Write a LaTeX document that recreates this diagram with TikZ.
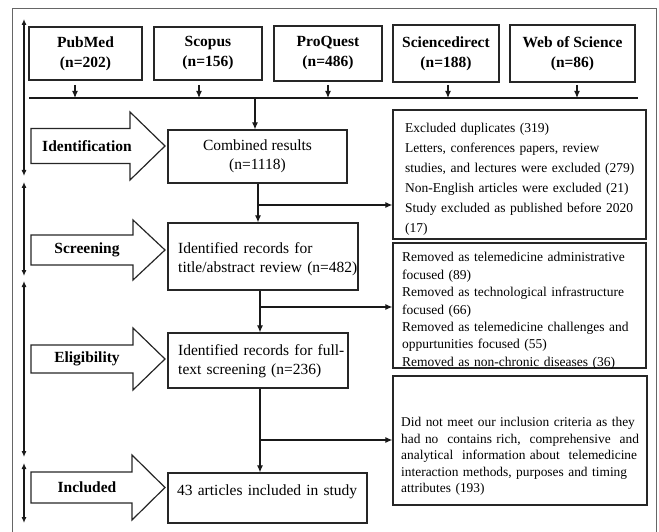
\documentclass[tikz,border=0pt]{standalone}
\usepackage{fontspec}
\setmainfont{Liberation Serif}
\usetikzlibrary{arrows.meta,calc}
\newcommand\blockarr[6]{%
  % #1 name, #2 cy, #3 tail half, #4 head half, #5 head base x, #6 label
  \draw[blockline] (31,{#2-#3}) -- (#5,{#2-#3}) -- (#5,{#2-#4}) -- (165,#2)
    -- (#5,{#2+#4}) -- (#5,{#2+#3}) -- (31,{#2+#3}) -- cycle;
  \node[phase] (#1) at (87,#2) {#6};
}
\begin{document}
\begin{tikzpicture}[x=1pt,y=-1pt,
  box/.style={draw=black!85, line width=1.2pt, inner sep=0pt},
  srcbox/.style={box, align=center, font=\fontsize{15.5}{20}\selectfont\bfseries},
  midbox/.style={box, font=\fontsize{15.5}{19}\selectfont},
  midtext/.style={inner sep=0pt, anchor=base west, align=left, text width=186pt, font=\fontsize{15.5}{19}\selectfont},
  blockline/.style={draw=black!85, line width=1.2pt, line join=miter},
  phase/.style={font=\fontsize{15.5}{19}\selectfont\bfseries, inner sep=0pt},
  extext/.style={inner sep=0pt, anchor=base west, align=left, text width=242pt},
  conn/.style={draw=black!90, line width=1.1pt},
  arr/.style={conn, -{Latex[length=7pt,width=6pt]}},
  tl/.style={conn, {Latex[length=6pt,width=5pt]}-{Latex[length=6pt,width=5pt]}}
]
\useasboundingbox (0,0) rectangle (659,532);
% outer frame
\draw[draw=black!60, line width=1pt] (12,9) rectangle (656,534);

% source boxes
\node[srcbox, minimum width=113pt, minimum height=53pt] (pubmed) at (85.5,53.5) {PubMed\\(n=202)};
\node[srcbox, minimum width=108pt, minimum height=53pt] (scopus) at (208,53.5) {Scopus\\(n=156)};
\node[srcbox, minimum width=108pt, minimum height=55pt] (proquest) at (328,53.5) {ProQuest\\(n=486)};
\node[srcbox, minimum width=106pt, minimum height=57pt] (scidir) at (446,53.5) {Sciencedirect\\(n=188)};
\node[srcbox, minimum width=125pt, minimum height=57pt] (wos) at (572.5,53.5) {Web of Science\\(n=86)};

% merge line
\coordinate (hl) at (29,98);
\coordinate (hr) at (638,98);
\draw[conn] (hl) -- (hr);
\coordinate (pa) at (75,85);
\coordinate (sa) at (199,85);
\coordinate (qa) at (328,85);
\coordinate (da) at (448,85);
\coordinate (wa) at (577,85);
\draw[arr] (pa) -- (pa |- hl);
\draw[arr] (sa) -- (sa |- hl);
\draw[arr] (qa) -- (qa |- hl);
\draw[arr] (da) -- (da |- hl);
\draw[arr] (wa) -- (wa |- hl);

% middle boxes
\node[midbox, align=center, minimum width=179pt, minimum height=53pt] (combined) at (257.5,156.5) {Combined results\\(n=1118)};
\node[box, minimum width=190pt, minimum height=67pt] (screen) at (263,256.5) {};
\node[midtext] (screent) at (178,253) {Identified records for\\title/abstract review (n=482)};
\node[box, minimum width=180pt, minimum height=55pt] (elig) at (258,360.5) {};
\node[midtext] (eligt) at (178,355) {Identified records for full-\\text screening (n=236)};
\node[box, minimum width=199pt, minimum height=50pt] (incl) at (267.5,498) {};
\node[midtext] (inclt) at (177,495) {43 articles included in study};

% exclusion boxes
\node[box, minimum width=253pt, minimum height=129pt] (ex1) at (519.5,174.5) {};
\node[box, minimum width=253pt, minimum height=125pt] (ex2) at (519.5,305.5) {};
\node[box, minimum width=254pt, minimum height=129pt] (ex3) at (520,440.5) {};

\node[extext, font=\fontsize{13.5}{20}\selectfont] (ex1t) at (405,132.5)
 {Excluded duplicates (319)\\Letters, conferences papers, review\\studies, and lectures were excluded (279)\\Non-English articles were excluded (21)\\Study excluded as published before 2020\\(17)};
\node[extext, font=\fontsize{13.5}{17.5}\selectfont] (ex2t) at (402,261.5)
 {Removed as telemedicine administrative\\focused (89)\\Removed as technological infrastructure\\focused (66)\\Removed as telemedicine challenges and\\oppurtunities focused (55)\\Removed as non-chronic diseases (36)};
\node[extext, text width=226pt, font=\fontsize{13.4}{16.5}\selectfont] (ex3t) at (401,426.5)
 {\makebox[226pt][s]{Did not meet our inclusion criteria as they}\\
  \makebox[226pt][s]{had no\ \ contains rich,\ \ comprehensive\ \ and}\\
  \makebox[226pt][s]{analytical\ \ information about\ \ telemedicine}\\
  \makebox[226pt][s]{interaction methods, purposes and timing}\\
  attributes (193)};

% flow connectors
\coordinate (m) at (255,98);
\draw[arr] (m) -- (m |- combined.north);
\coordinate (c1) at ($(combined.south)+(0.5,0)$);
\draw[arr] (c1) -- (c1 |- screen.north);
\coordinate (b1) at (258,205);
\draw[arr] (b1) -- (b1 -| ex1.west);
\coordinate (c2) at ($(screen.south)+(-3,0)$);
\draw[arr] (c2) -- (c2 |- elig.north);
\coordinate (b2) at (260,307);
\draw[arr] (b2) -- (b2 -| ex2.west);
\coordinate (c3) at ($(elig.south)+(2,0)$);
\draw[arr] (c3) -- (c3 |- incl.north);
\coordinate (b3) at (260,440);
\draw[arr] (b3) -- (b3 -| ex3.west);

% phase block arrows
\blockarr{pid}{146}{17.5}{34}{130}{Identification}
\blockarr{psc}{250}{15}{30}{133}{Screening}
\blockarr{pel}{359}{14}{31}{133}{Eligibility}
\blockarr{pin}{487.5}{15.5}{32.5}{132}{Included}

% timeline on the left
\coordinate (t0) at (24,19);
\coordinate (t1) at (24,176);
\coordinate (t2) at (24,182);
\coordinate (t3) at (24,276);
\coordinate (t4) at (24,281);
\coordinate (t5) at (24,457);
\coordinate (t6) at (24,463);
\coordinate (t7) at (24,523);
\draw[tl] (t0) -- (t1);
\draw[tl] (t2) -- (t3);
\draw[tl] (t4) -- (t5);
\draw[tl] (t6) -- (t7);
\end{tikzpicture}
\end{document}
